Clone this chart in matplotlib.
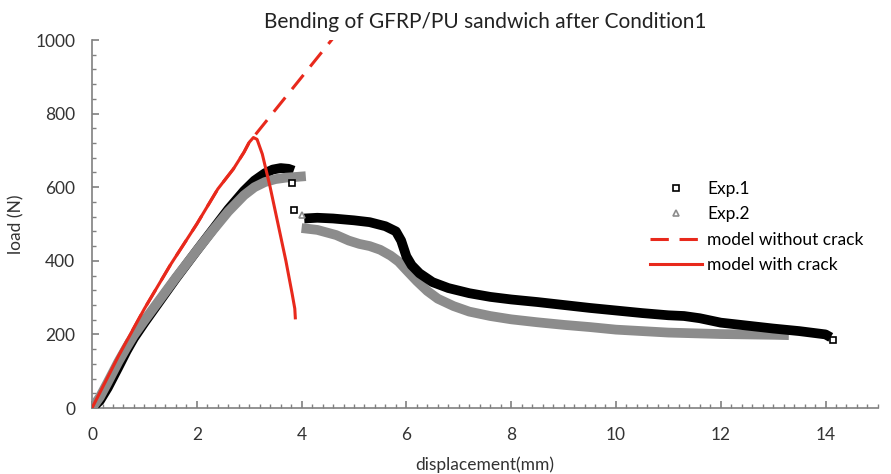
import matplotlib
matplotlib.use("Agg")
import matplotlib.pyplot as plt
from matplotlib.lines import Line2D
from matplotlib.ticker import MultipleLocator

plt.rcParams["font.family"] = ["Lato", "DejaVu Sans"]

# Exp.1 (black) displacement / load
exp1_x = [0.0, 0.15, 0.3, 0.5, 0.66, 0.8, 1.0, 1.3, 1.6, 2.0, 2.3, 2.6, 2.9, 3.1, 3.3, 3.45, 3.6, 3.75, 3.85]
exp1_y = [0, 20, 55, 110, 155, 190, 232, 292, 352, 428, 484, 540, 590, 618, 638, 648, 652, 650, 645]
exp1_x2 = [4.05, 4.3, 4.6, 5.0, 5.3, 5.6, 5.8, 5.9, 6.0, 6.1, 6.25, 6.5, 6.8, 7.2, 7.6, 8.0, 8.5, 9.0, 9.5, 10.0,
           10.5, 11.0, 11.3, 11.6, 12.0, 12.5, 13.0, 13.5, 14.0, 14.1]
exp1_y2 = [515, 517, 515, 510, 505, 494, 480, 455, 412, 388, 366, 342, 326, 312, 302, 295, 288, 280, 272, 265,
           258, 252, 250, 244, 232, 224, 216, 209, 200, 192]
exp1_pts_x = [3.82, 3.86, 14.15]
exp1_pts_y = [611, 538, 185]

# Exp.2 (grey)
exp2_x = [0.0, 0.15, 0.3, 0.5, 0.66, 0.8, 1.0, 1.3, 1.6, 2.0, 2.3, 2.6, 2.9, 3.1, 3.3, 3.5, 3.7, 3.9, 4.08]
exp2_y = [0, 30, 70, 125, 165, 198, 238, 296, 354, 428, 482, 534, 578, 600, 614, 622, 626, 628, 630]
exp2_x2 = [4.0, 4.3, 4.66, 4.9, 5.1, 5.3, 5.5, 5.7, 5.85, 6.0, 6.2, 6.4, 6.6, 6.9, 7.2, 7.6, 8.0, 8.5, 9.0, 9.5,
           10.0, 10.5, 11.0, 11.5, 12.0, 12.5, 13.0, 13.3]
exp2_y2 = [489, 484, 470, 455, 446, 440, 430, 414, 398, 375, 345, 318, 297, 277, 262, 250, 241, 233, 226, 220,
           213, 209, 205, 203, 201, 200, 199, 198]
exp2_pts_x = [4.0]
exp2_pts_y = [524]

# model with crack
crack_x = [0.0, 0.5, 1.0, 1.5, 2.0, 2.4, 2.7, 2.9, 3.0, 3.08, 3.15, 3.25, 3.4, 3.55, 3.7, 3.82, 3.87, 3.88]
crack_y = [0, 140, 270, 390, 500, 595, 650, 695, 722, 735, 730, 690, 600, 500, 400, 310, 270, 245]

# model without crack (follows the cracked model until the peak)
nocrack_x = [0.0, 0.5, 1.0, 1.5, 2.0, 2.4, 2.7, 2.9, 3.0, 4.6]
nocrack_y = [0, 140, 270, 390, 500, 595, 650, 695, 722, 1005]

fig = plt.figure(figsize=(8.91, 4.74), dpi=100)
ax = fig.add_axes([0.1033, 0.1392, 0.882, 0.7764])

red = "#e8291c"
ax.plot(nocrack_x, nocrack_y, color=red, lw=2.2, ls=(0, (6, 3.5)), zorder=2)
ax.plot(exp1_x, exp1_y, color="black", lw=7, solid_capstyle="butt", zorder=3)
ax.plot(exp1_x2, exp1_y2, color="black", lw=7, solid_capstyle="butt", zorder=3)
ax.plot(exp2_x, exp2_y, color="#8c8c8c", lw=7, solid_capstyle="butt", zorder=4)
ax.plot(exp2_x2, exp2_y2, color="#8c8c8c", lw=7, solid_capstyle="butt", zorder=2.5)
ax.plot(exp1_pts_x, exp1_pts_y, ls="none", marker="s", ms=4, mfc="white", mec="black", mew=1.2, zorder=5)
ax.plot(exp2_pts_x, exp2_pts_y, ls="none", marker="^", ms=5, mfc="white", mec="#8c8c8c", mew=1.2, zorder=5)
ax.plot(crack_x, crack_y, color=red, lw=2.2, zorder=6)

ax.set_xlim(0, 15)
ax.set_ylim(0, 1000)
ax.xaxis.set_major_locator(MultipleLocator(2))
ax.xaxis.set_minor_locator(MultipleLocator(0.2))
ax.yaxis.set_major_locator(MultipleLocator(200))
ax.yaxis.set_minor_locator(MultipleLocator(40))
for s in ["top", "right"]:
    ax.spines[s].set_visible(False)
for s in ["left", "bottom"]:
    ax.spines[s].set_color("#808080")
    ax.spines[s].set_linewidth(1.2)
ax.tick_params(which="both", direction="in", color="#808080", labelsize=12.5, labelcolor="#333333")
ax.tick_params(which="major", length=5, width=1.2)
ax.tick_params(which="minor", length=3, width=1)
ax.tick_params(axis="x", pad=14)
ax.tick_params(axis="y", pad=12)

ax.set_title("Bending of GFRP/PU sandwich after Condition1", fontsize=15, color="#222222", pad=9)
ax.set_xlabel("displacement(mm)", fontsize=12.5, color="#333333", labelpad=9)
ax.set_ylabel("load (N)", fontsize=12.5, color="#333333", labelpad=8)

handles = [
    Line2D([], [], ls="none", marker="s", ms=4, mfc="white", mec="black", mew=1.2),
    Line2D([], [], ls="none", marker="^", ms=5, mfc="white", mec="#8c8c8c", mew=1.2),
    Line2D([], [], color=red, lw=2.2, ls=(0, (6, 3.5))),
    Line2D([], [], color=red, lw=2.2),
]
ax.legend(handles, ["Exp.1", "Exp.2", "model without crack", "model with crack"],
          loc="upper left", bbox_to_anchor=(0.69, 0.66), frameon=False,
          fontsize=12.5, handlelength=3, labelspacing=0.55, handletextpad=0.3)

fig.savefig("out.png", dpi=100)
